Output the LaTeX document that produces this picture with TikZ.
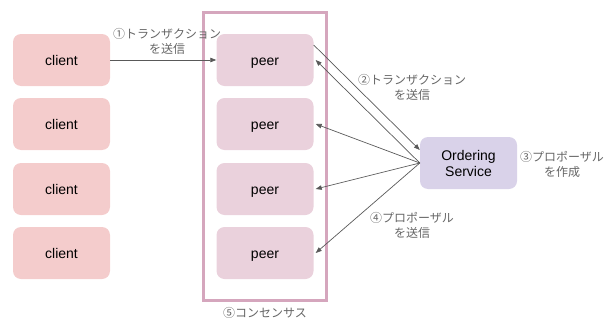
\documentclass[tikz,border=0pt]{standalone}
\usepackage{fontspec}
\setmainfont{Liberation Sans}
\newfontfamily\jp{Noto Sans CJK JP}
\usetikzlibrary{arrows.meta}
\definecolor{clientc}{HTML}{F4CCCC}
\definecolor{peerc}{HTML}{EAD1DC}
\definecolor{ordc}{HTML}{D9D2E9}
\definecolor{groupc}{HTML}{D5A6BD}
\definecolor{labc}{HTML}{666666}
\definecolor{linec}{HTML}{595959}
\tikzset{
  box/.style={rounded corners=8pt, minimum width=97pt, minimum height=52pt, inner sep=0pt, font=\fontsize{14}{16}\selectfont, align=center},
  clientbox/.style={box, fill=clientc, text height=10pt, text depth=0pt},
  peerbox/.style={box, fill=peerc, text height=10pt, text depth=0pt},
  ordbox/.style={box, fill=ordc},
  lab/.style={font=\jp\fontsize{12}{15}\selectfont, text=labc, align=center, inner sep=0pt},
  arr/.style={draw=linec, line width=0.7pt, -{Triangle[length=6pt,width=4.5pt]}}
}
\begin{document}
\begin{tikzpicture}[x=1pt,y=-1pt]
\useasboundingbox (0,0) rectangle (605,324);
\node[draw=groupc, line width=3pt, minimum width=123pt, minimum height=288pt, inner sep=0pt] (grp) at (264.5,156) {};
\node[clientbox] (c1) at (61.5,60) {client};
\node[clientbox] (c2) at (61.5,124) {client};
\node[clientbox] (c3) at (61.5,189) {client};
\node[clientbox] (c4) at (61.5,253) {client};
\node[peerbox] (p1) at (265,60) {peer};
\node[peerbox] (p2) at (265,124) {peer};
\node[peerbox] (p3) at (265,189) {peer};
\node[peerbox] (p4) at (265,253) {peer};
\node[ordbox] (o) at (468.5,163) {Ordering\\Service};
\draw[arr] (c1.east) -- (p1.west);
\draw[arr] ([yshift=15pt]p1.east) -- ([yshift=13pt]o.west);
\draw[arr] (o.west) -- ([xshift=2pt]p1.east);
\draw[arr] (o.west) -- ([xshift=2pt]p2.east);
\draw[arr] (o.west) -- ([xshift=2pt]p3.east);
\draw[arr] (o.west) -- ([xshift=2pt]p4.east);
\node[lab] (l1) at (167,41) {①トランザクション\\を送信};
\node[lab] (l2) at (412,87) {②トランザクション\\を送信};
\node[lab] (l3) at (562,164) {③プロポーザル\\を作成};
\node[lab] (l4) at (412,225) {④プロポーザル\\を送信};
\node[lab] (l5) at (265,313) {⑤コンセンサス};
\end{tikzpicture}
\end{document}
